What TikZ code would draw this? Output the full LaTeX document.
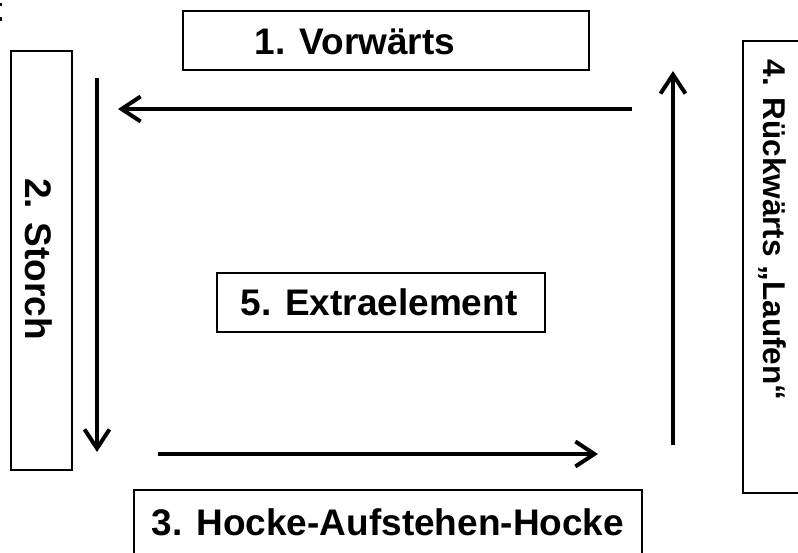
\documentclass[tikz,border=0pt]{standalone}
\usepackage{fontspec}
\setmainfont{Liberation Sans}
\usetikzlibrary{arrows.meta}
\tikzset{
  box/.style={draw=black, line width=2.3pt, inner sep=0pt, anchor=base,
    font=\fontsize{37}{40}\selectfont\bfseries},
  flow/.style={line width=4pt, -{Straight Barb[length=19pt,width=25pt]}},
}
\begin{document}
\begin{tikzpicture}[x=1pt,y=-1pt]
\clip (0,0) rectangle (798,553);
\fill[white] (0,0) rectangle (798,553);
% small fragment at top-left edge
\fill[black] (0,3) rectangle (2,6);
\fill[black] (0,17) rectangle (2,21);
% boxes
\node (b1) [box, minimum width=406pt, text height=44pt, text depth=15pt] at (386,55) {\hspace*{-62pt}1. Vorwärts};
\node (b2) [box, rotate=-90, minimum width=419pt, text height=47pt, text depth=14pt] at (25,260.5) {\hspace*{-3pt}2. Storch};
\node (b3) [box, minimum width=508pt, text height=45pt, text depth=40pt] at (388,535) {3. Hocke-Aufstehen-Hocke};
\node (b4) [box, rotate=-90, minimum width=452pt, text height=37pt, text depth=20pt,
  font=\fontsize{31.5}{34}\selectfont\bfseries] at (763,267) {\hspace*{-74pt}4. Rückwärts „Laufen“};
\node (b5) [box, minimum width=328pt, text height=43pt, text depth=16pt] at (381,316) {\hspace*{-4pt}5. Extraelement};
% arrow end points
\coordinate (a1s) at (632,109);
\coordinate (a1e) at (118,109);
\coordinate (a2s) at (97,78);
\coordinate (a2e) at (97,452);
\coordinate (a3s) at (158,454);
\coordinate (a3e) at (598,454);
\coordinate (a4s) at (673,445);
\coordinate (a4e) at (673,71);
\draw[flow] (a1s) -- (a1e);
\draw[flow] (a2s) -- (a2e);
\draw[flow] (a3s) -- (a3e);
\draw[flow] (a4s) -- (a4e);
\end{tikzpicture}
\end{document}
